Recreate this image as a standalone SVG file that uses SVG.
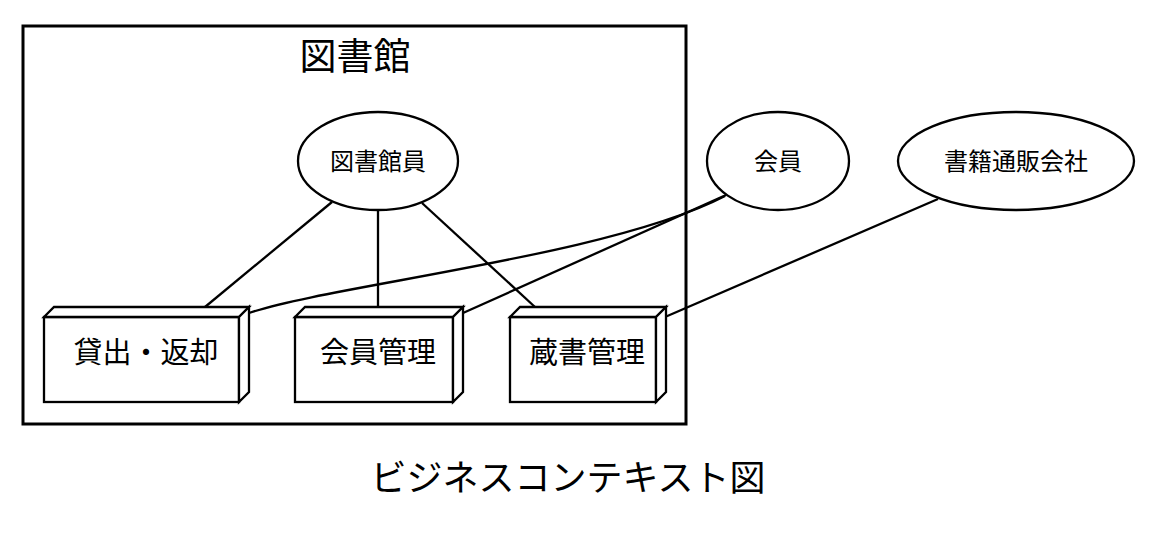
<svg xmlns="http://www.w3.org/2000/svg" width="1174" height="558" viewBox="0 0 1174 558">
<style>
.s{fill:#fff;stroke:#000;stroke-width:2.3}
.c{fill:none;stroke:#000;stroke-width:2.3}
text{font-family:"Noto Sans CJK JP","Noto Sans CJK SC",sans-serif;fill:#000;text-anchor:middle}
.t1{font-size:37px}
.t2{font-size:24px}
.t3{font-size:29px}
.t4{font-size:36px}
</style>
<rect width="1174" height="558" fill="#fff"/>
<g id="library">
<rect x="23" y="26" width="663" height="398" fill="none" stroke="#000" stroke-width="3"/>
<text class="t1" x="355" y="70">図書館</text>
</g>
<g id="connectors">
<line class="c" x1="332" y1="202" x2="205" y2="307"/>
<line class="c" x1="378" y1="210" x2="378" y2="307"/>
<line class="c" x1="422" y1="203" x2="535" y2="307"/>
<path class="c" d="M249,313 C330,285 610,256 725,196"/>
<line class="c" x1="463" y1="313" x2="726" y2="195"/>
<line class="c" x1="665" y1="317" x2="938" y2="199"/>
</g>
<g id="librarian">
<ellipse class="s" cx="378" cy="161" rx="80" ry="49"/>
<text class="t2" x="378" y="170">図書館員</text>
</g>
<g id="member">
<ellipse class="s" cx="778" cy="161" rx="71" ry="49"/>
<text class="t2" x="778" y="170">会員</text>
</g>
<g id="bookseller">
<ellipse class="s" cx="1016" cy="161" rx="118" ry="49"/>
<text class="t2" x="1016" y="170">書籍通販会社</text>
</g>
<g id="lending">
<rect class="s" x="44" y="317" width="195" height="85"/>
<polygon class="s" points="44,317 54,307 249,307 239,317"/>
<polygon class="s" points="239,317 249,307 249,392 239,402"/>
<text class="t3" x="146" y="363">貸出・返却</text>
</g>
<g id="membermgmt">
<rect class="s" x="295" y="317" width="158" height="85"/>
<polygon class="s" points="295,317 305,307 463,307 453,317"/>
<polygon class="s" points="453,317 463,307 463,392 453,402"/>
<text class="t3" x="378" y="363">会員管理</text>
</g>
<g id="stockmgmt">
<rect class="s" x="510" y="317" width="146" height="85"/>
<polygon class="s" points="510,317 520,307 666,307 656,317"/>
<polygon class="s" points="656,317 666,307 666,392 656,402"/>
<text class="t3" x="587" y="363">蔵書管理</text>
</g>
<g id="caption">
<text class="t4" x="568" y="491">ビジネスコンテキスト図</text>
</g>
</svg>
